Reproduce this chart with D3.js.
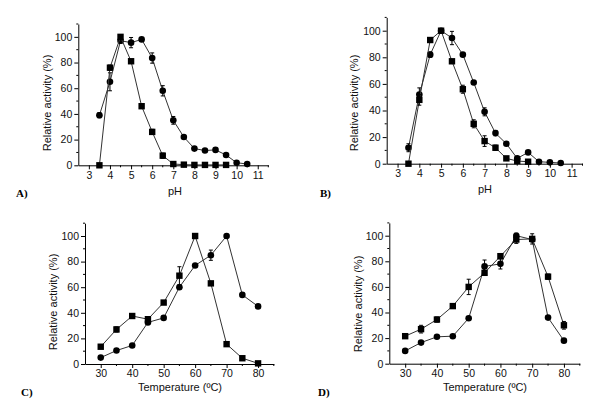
<!DOCTYPE html>
<html><head><meta charset="utf-8">
<script src="https://cdnjs.cloudflare.com/ajax/libs/d3/7.8.5/d3.min.js"></script>
<style>body{margin:0;background:#fff}svg{display:block}</style>
</head><body><svg id="c" width="594" height="405"></svg>
<script>
// ---- data ----
const phValues = [3.5,4,4.5,5,5.5,6,6.5,7,7.5,8,8.5,9,9.5,10,10.5];
const tempValues = [30,35,40,45,50,55,60,65,70,75,80];
const phTicks = [3,4,5,6,7,8,9,10,11];
const tempTicks = [30,40,50,60,70,80];
const activityTicks = [0,20,40,60,80,100];

// Panel A
const aCircle    = [39,65,97,95.5,98,83.5,58,35,22,13,11.5,12,8,2,1];
const aCircleErr = [2,7,2,4,1,4,4,3,1,1,1,1,1,1,1];
const aSquare    = [0,76,100,81,46,26,7.5,1,0.5,0.3,0.3,0.3,0.3];
const aSquareErr = [0,2,1,1,1,2,2,0,0,0,0,0,0];
// Panel B
const bCircle    = [12,52,82,100,94.5,82,61,39,23,15,4,8.5,1.5,1,0.5];
const bCircleErr = [3,5,2,1,5,1,1,3,2,1,1,1,0,0,0];
const bSquare    = [0,48,93,100,77,56,30,17,12,4,2,1.5];
const bSquareErr = [0,4,1,1,1,3,3,4,2,1,1,0];
// Panel C
const cSquare    = [13.5,27,37.5,35,48,69,100,63,15.5,4.5,0.5];
const cSquareErr = [1,2,1,1,1,7,1,1,1,1,0];
const cCircle    = [5,10.5,14.5,32.5,36,60,77,85,100,54,45];
const cCircleErr = [1,1,1,1,1,1,1,4,1,1,1];
// Panel D
const dSquare    = [21.5,27,34.5,45,60,71,84,97,97.5,68,30];
const dSquareErr = [1,3,2,1,6,1,2,3,4,2,3];
const dCircle    = [10,16.5,21,21.5,35.5,76,78,100,97,36,18];
const dCircleErr = [1,1,1,1,1,5,4,2,1,1,1];

// ---- layout ----
const svg = d3.select("#c");
const panels = [
  {x:phValues, xd:[2.5,11.5], xr:[78.3,268.3], yr:[165.3,24], ticks:phTicks, minorStep:0.5,
   series:[[aCircle,aCircleErr,"circle"],[aSquare,aSquareErr,"square"]],
   xlabel:"pH", xlx:175, xly:195, ytx:47, yty:103, tag:"A)", tagx:16, tagy:197},
  {x:phValues, xd:[2.5,11.5], xr:[386.7,582.5], yr:[163.7,17.4], ticks:phTicks, minorStep:0.5,
   series:[[bCircle,bCircleErr,"circle"],[bSquare,bSquareErr,"square"]],
   xlabel:"pH", xlx:485, xly:193, ytx:354, yty:103, tag:"B)", tagx:320, tagy:197},
  {x:tempValues, xd:[25,85], xr:[85,273.8], yr:[364,223.2], ticks:tempTicks, minorStep:5,
   series:[[cCircle,cCircleErr,"circle"],[cSquare,cSquareErr,"square"]],
   xlabel:"Temperature (\u00BAC)", xlx:180, xly:391, ytx:53, yty:302, tag:"C)", tagx:21, tagy:396},
  {x:tempValues, xd:[25,85], xr:[389.3,579.8], yr:[363.7,222.9], ticks:tempTicks, minorStep:5,
   series:[[dCircle,dCircleErr,"circle"],[dSquare,dSquareErr,"square"]],
   xlabel:"Temperature (\u00BAC)", xlx:485, xly:391, ytx:358, yty:304, tag:"D)", tagx:318, tagy:396}
];

const ink = "#000";
panels.forEach(p => {
  const x = d3.scaleLinear().domain(p.xd).range(p.xr);
  const y = d3.scaleLinear().domain([0,110]).range(p.yr);
  const g = svg.append("g");

  // x axis
  const xa = g.append("g").attr("transform",`translate(0,${p.yr[0]})`)
    .call(d3.axisBottom(x).tickValues(p.ticks).tickSize(4).tickSizeOuter(0).tickPadding(2).tickFormat(d3.format("d")));
  const minorX = d3.range(p.xd[0]+p.minorStep, p.xd[1]+1e-9, p.minorStep).filter(v => !p.ticks.some(t=>Math.abs(t-v)<1e-9));
  xa.selectAll(".minor").data(minorX).join("line").attr("class","minor")
    .attr("x1",d=>x(d)).attr("x2",d=>x(d)).attr("y1",0).attr("y2",2).attr("stroke",ink);
  // y axis
  const ya = g.append("g").attr("transform",`translate(${p.xr[0]},0)`)
    .call(d3.axisLeft(y).tickValues(activityTicks).tickSize(4).tickSizeOuter(0).tickPadding(2));
  ya.selectAll(".minor").data([10,30,50,70,90,110]).join("line").attr("class","minor")
    .attr("x1",0).attr("x2",-2).attr("y1",d=>y(d)).attr("y2",d=>y(d)).attr("stroke",ink);
  [xa,ya].forEach(a => {
    a.select(".domain").attr("stroke",ink).attr("stroke-width",1);
    a.selectAll(".tick line").attr("stroke",ink);
    a.selectAll("text").attr("font-family","Arial, 'Liberation Sans', sans-serif").attr("font-size",10.5).attr("fill","#111");
  });

  // series
  p.series.forEach(([vals, errs, shape]) => {
    const pts = vals.map((v,i)=>({x:p.x[i], y:v, e:errs[i]}));
    g.append("path").datum(pts)
      .attr("fill","none").attr("stroke","#333").attr("stroke-width",1)
      .attr("d", d3.line().x(d=>x(d.x)).y(d=>y(d.y)));
    const eb = g.append("g").attr("stroke","#000").attr("stroke-width",1);
    pts.filter(d=>d.e>0).forEach(d => {
      const cx = x(d.x), t = y(d.y+d.e), b = y(d.y-d.e);
      eb.append("line").attr("x1",cx).attr("x2",cx).attr("y1",t).attr("y2",b);
      eb.append("line").attr("x1",cx-2).attr("x2",cx+2).attr("y1",t).attr("y2",t);
      eb.append("line").attr("x1",cx-2).attr("x2",cx+2).attr("y1",b).attr("y2",b);
    });
    if (shape === "circle") {
      g.append("g").selectAll("circle").data(pts).join("circle")
        .attr("cx",d=>x(d.x)).attr("cy",d=>y(d.y)).attr("r",3.3).attr("fill","#000");
    } else {
      const s = 6.4;
      g.append("g").selectAll("rect").data(pts).join("rect")
        .attr("x",d=>x(d.x)-s/2).attr("y",d=>y(d.y)-s/2).attr("width",s).attr("height",s).attr("fill","#000");
    }
  });

  // labels
  g.append("text").attr("x",p.xlx).attr("y",p.xly).attr("text-anchor","middle")
    .attr("font-family","Arial, 'Liberation Sans', sans-serif").attr("font-size",11).attr("fill","#111").text(p.xlabel);
  g.append("text").attr("transform",`translate(${p.ytx},${p.yty}) rotate(-90)`).attr("text-anchor","middle")
    .attr("dominant-baseline","central")
    .attr("font-family","Arial, 'Liberation Sans', sans-serif").attr("font-size",11).attr("fill","#111").text("Relative activity (%)");
  g.append("text").attr("x",p.tagx).attr("y",p.tagy)
    .attr("font-family","'Times New Roman', 'Liberation Serif', serif").attr("font-weight","bold").attr("font-size",11).attr("fill","#000").text(p.tag);
});
</script></body></html>
